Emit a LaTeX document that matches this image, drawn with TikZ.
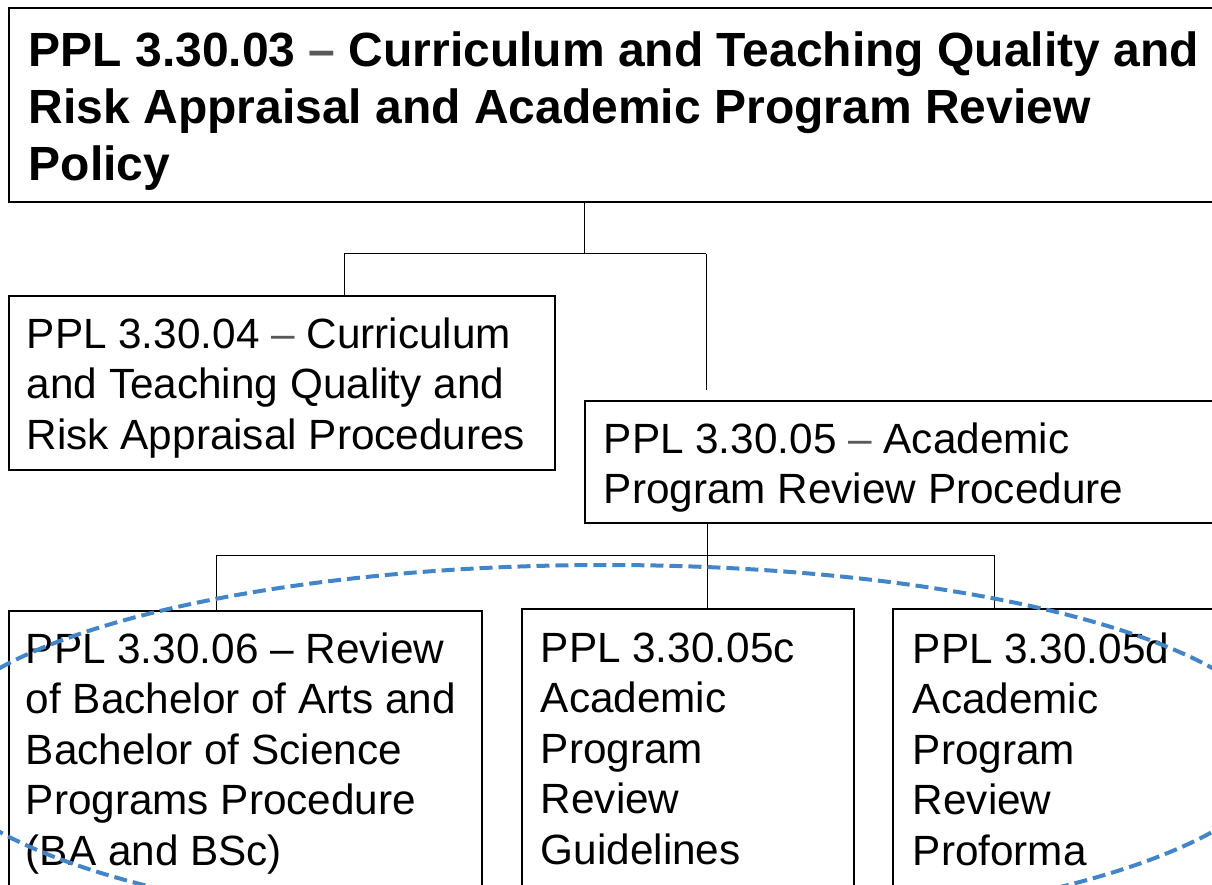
\documentclass[tikz,border=0pt]{standalone}
\usepackage{fontspec}
\setmainfont{Liberation Sans}
\definecolor{dashgray}{HTML}{595959}
\definecolor{ellblue}{RGB}{66,133,200}
\newcommand\gd{\textcolor{dashgray}{–}}
\newcommand\regfont{\fontsize{42.3}{50.6}\selectfont}
\newcommand\ttlfont{\fontsize{48}{57}\selectfont\bfseries}
\begin{document}
\begin{tikzpicture}[x=1pt,y=-1pt,
  box/.style={draw=black, line width=1.6pt, anchor=north west, inner ysep=0pt, fill=white},
  conn/.style={draw=black, line width=1pt}]
\useasboundingbox (0,0) rectangle (1212,885);
\clip (0,0) rectangle (1212,885);

% boxes
\node[box, inner xsep=20pt] (title) at (8,7)
  {\parbox[c][194pt][t]{1170pt}{\ttlfont\raggedright\vspace*{23.6pt}PPL 3.30.03 \gd{} Curriculum and Teaching Quality and\\Risk Appraisal and Academic Program Review\\Policy}};
\node[box, inner xsep=18pt] (n04) at (8,295)
  {\parbox[c][174pt][t]{510pt}{\regfont\raggedright\vspace*{21.7pt}PPL 3.30.04 \gd{} Curriculum\\and Teaching Quality and\\Risk Appraisal Procedures}};
\node[box, inner xsep=19pt] (n05) at (584,400)
  {\parbox[c][122pt][t]{597pt}{\regfont\raggedright\vspace*{21.7pt}PPL 3.30.05 \gd{} Academic\\Program Review Procedure}};
\node[box, inner xsep=17pt] (n06) at (8,610)
  {\parbox[c][300pt][t]{439pt}{\regfont\raggedright\vspace*{21.7pt}PPL 3.30.06 – Review\\of Bachelor of Arts and\\Bachelor of Science\\Programs Procedure\\(BA and BSc)}};
\node[box, inner xsep=19pt] (n05c) at (521,608)
  {\parbox[c][300pt][t]{294pt}{\regfont\raggedright\vspace*{23.7pt}PPL 3.30.05c\\Academic\\Program\\Review\\Guidelines}};
\node[box, inner xsep=20pt] (n05d) at (892,608)
  {\parbox[c][300pt][t]{285pt}{\regfont\raggedright\vspace*{23.7pt}PPL 3.30.05d\\Academic\\Program\\Review\\Proforma}};

% connectors, upper level
\coordinate (j1) at (584,254);
\coordinate (h1l) at (344,254);
\coordinate (h1r) at (706,254);
\coordinate (e05) at (706,390);
\draw[conn] (title.south -| j1) -- (j1);
\draw[conn] (h1l) -- (h1r);
\draw[conn] (h1l) -- (h1l |- n04.north);
\draw[conn] (h1r) -- (e05);

% connectors, lower level
\coordinate (j2) at (707,555);
\coordinate (h2l) at (216,555);
\coordinate (h2r) at (994,555);
\draw[conn] (n05.south -| j2) -- (j2 |- n05c.north);
\draw[conn] (h2l) -- (h2r);
\draw[conn] (h2l) -- (h2l |- n06.north);
\draw[conn] (h2r) -- (h2r |- n05d.north);

% dashed ellipse
\draw[ellblue, line width=4pt, dash pattern=on 13pt off 6pt] (606,750) ellipse [x radius=676, y radius=185];
\end{tikzpicture}
\end{document}
